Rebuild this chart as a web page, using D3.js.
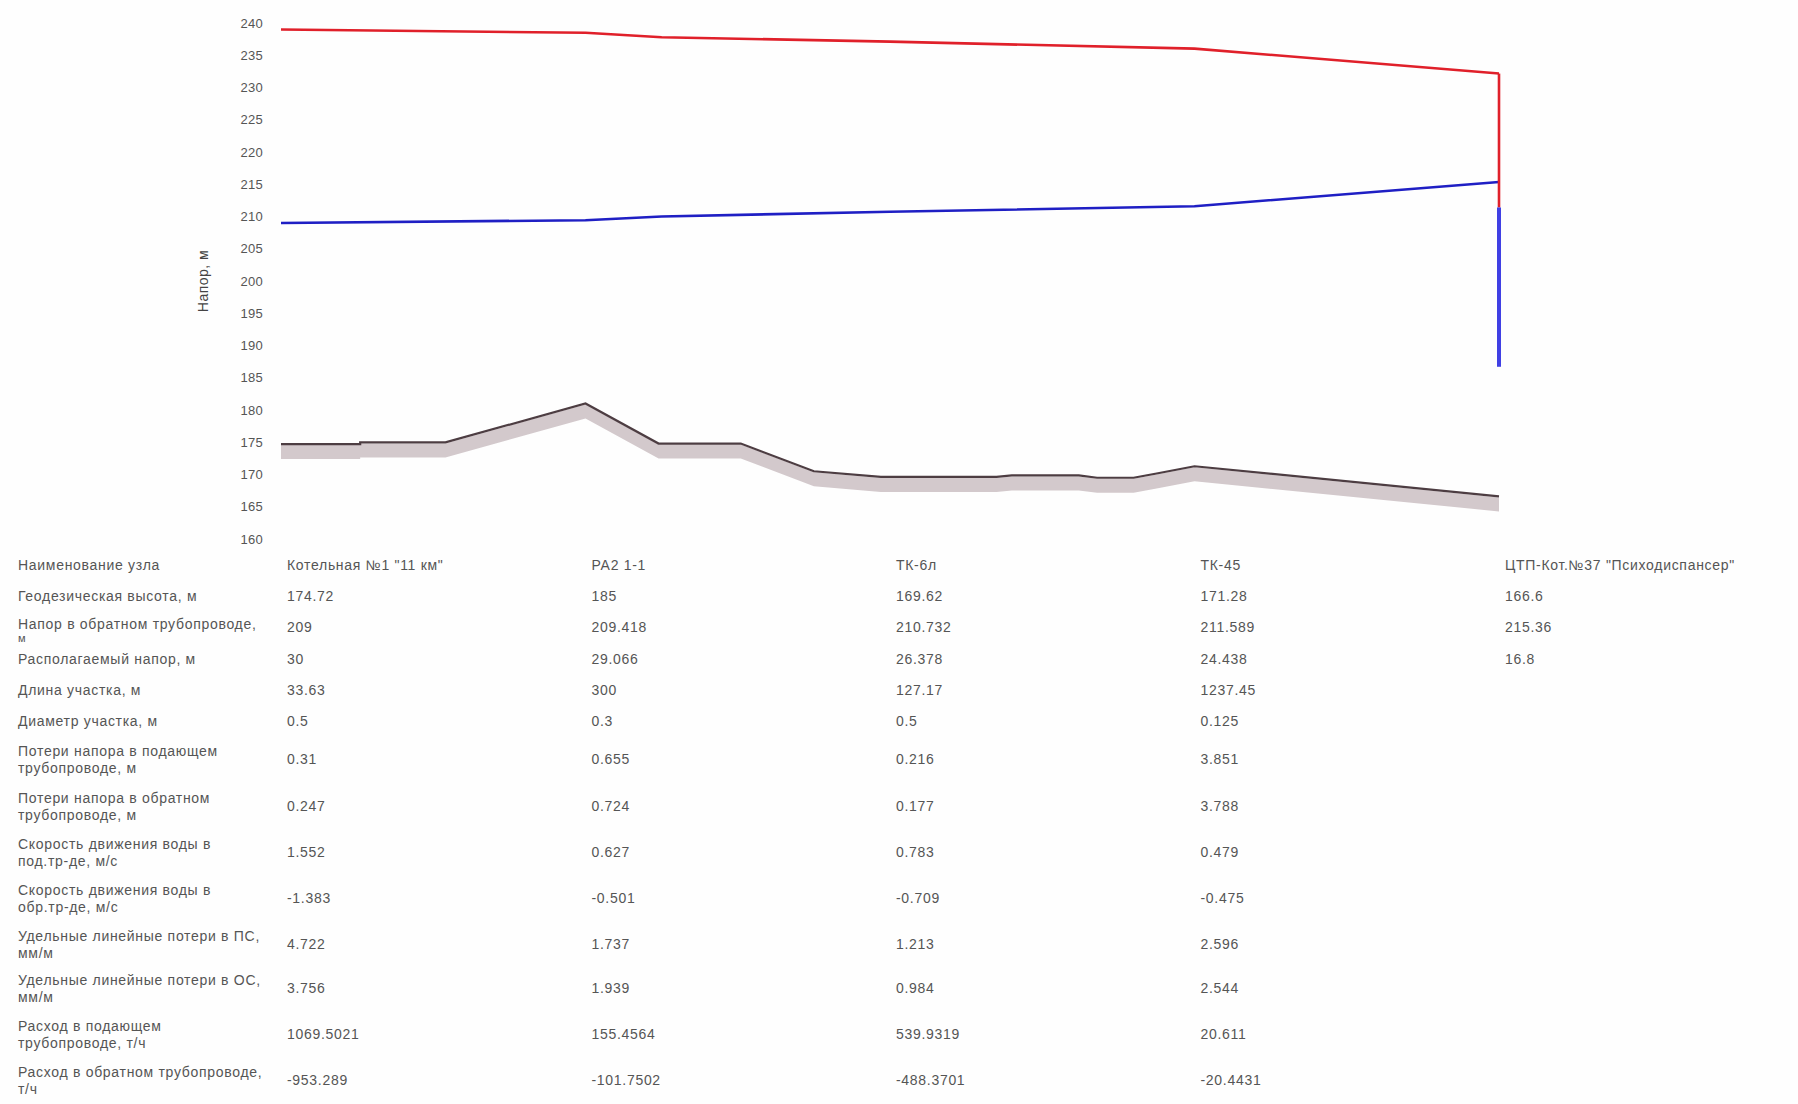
<!DOCTYPE html>
<html>
<head>
<meta charset="utf-8">
<script src="https://cdn.jsdelivr.net/npm/d3@7/dist/d3.min.js"></script>
<style>
  html, body { margin: 0; padding: 0; background: #ffffff; }
  svg { display: block; font-family: "Liberation Sans", Arial, sans-serif; }
</style>
</head>
<body>
<div id="chart"></div>
<script>
// ---------- DATA ----------
const yTicks = [160,165,170,175,180,185,190,195,200,205,210,215,220,225,230,235,240];
const yAxisTitle = "Напор, м";

// chart series (x = position along the route, table nodes at 0..4)
const supplyPos  = [0, 1, 1.25, 2, 3, 4];
const supplyHead = [239, 238.484, 237.8, 237.11, 236.027, 232.16];

const returnPos  = [0, 1, 1.25, 2, 3, 4];
const returnLine = [209, 209.418, 210.0, 210.732, 211.589, 215.36];

const groundPos  = [0, 0.26, 0.26, 0.54, 1, 1.24, 1.51, 1.75, 1.97, 2.35, 2.4, 2.62, 2.68, 2.8, 2.88, 3, 4];
const groundElev = [174.72, 174.72, 174.98, 174.98, 181.0, 174.8, 174.8, 170.5, 169.62, 169.62, 169.85, 169.85, 169.5, 169.5, 170.2, 171.28, 166.6];

// drop at the consumer (last node)
const consumerPos = 4;
const consumerSupplyDrop = [232.16, 211.4];
const consumerReturnDrop = [211.4, 186.7];

// table
const nodePos   = [0, 1, 2, 3, 4];
const nodeNames = ["Котельная №1 \"11 км\"", "РА2 1-1", "ТК-6л", "ТК-45", "ЦТП-Кот.№37 \"Психодиспансер\""];
const geodeticHeight = ["174.72", "185", "169.62", "171.28", "166.6"];
const returnHead     = ["209", "209.418", "210.732", "211.589", "215.36"];
const availableHead  = ["30", "29.066", "26.378", "24.438", "16.8"];
const sectionLength  = ["33.63", "300", "127.17", "1237.45"];
const sectionDiam    = ["0.5", "0.3", "0.5", "0.125"];
const lossSupply     = ["0.31", "0.655", "0.216", "3.851"];
const lossReturn     = ["0.247", "0.724", "0.177", "3.788"];
const speedSupply    = ["1.552", "0.627", "0.783", "0.479"];
const speedReturn    = ["-1.383", "-0.501", "-0.709", "-0.475"];
const specLossSupply = ["4.722", "1.737", "1.213", "2.596"];
const specLossReturn = ["3.756", "1.939", "0.984", "2.544"];
const flowSupply     = ["1069.5021", "155.4564", "539.9319", "20.611"];
const flowReturn     = ["-953.289", "-101.7502", "-488.3701", "-20.4431"];

const rowLabels = [
  ["Наименование узла"],
  ["Геодезическая высота, м"],
  ["Напор в обратном трубопроводе,", "м"],
  ["Располагаемый напор, м"],
  ["Длина участка, м"],
  ["Диаметр участка, м"],
  ["Потери напора в подающем", "трубопроводе, м"],
  ["Потери напора в обратном", "трубопроводе, м"],
  ["Скорость движения воды в", "под.тр-де, м/с"],
  ["Скорость движения воды в", "обр.тр-де, м/с"],
  ["Удельные линейные потери в ПС,", "мм/м"],
  ["Удельные линейные потери в ОС,", "мм/м"],
  ["Расход в подающем", "трубопроводе, т/ч"],
  ["Расход в обратном трубопроводе,", "т/ч"]
];
const rowValues = [nodeNames, geodeticHeight, returnHead, availableHead, sectionLength, sectionDiam,
  lossSupply, lossReturn, speedSupply, speedReturn, specLossSupply, specLossReturn, flowSupply, flowReturn];

// ---------- DRAW ----------
const W = 1798, H = 1104;
const svg = d3.select("#chart").append("svg").attr("width", W).attr("height", H);
svg.append("rect").attr("width", W).attr("height", H).attr("fill", "#fefefe");

const x = d3.scaleLinear().domain([0, 4]).range([281, 1499]);
const y = d3.scaleLinear().domain([160, 240]).range([539, 23]);

// y axis
const yAxis = svg.append("g").attr("transform", "translate(263,0)")
  .call(d3.axisLeft(y).tickValues(yTicks).tickSize(0).tickPadding(0));
yAxis.select(".domain").remove();
yAxis.selectAll("text").attr("font-size", 13).attr("fill", "#555")
  .attr("letter-spacing", "0.3px")
  .attr("font-family", "Liberation Sans, Arial, sans-serif");

svg.append("text")
  .attr("transform", `translate(208,${(y(240)+y(160))/2}) rotate(-90)`)
  .attr("text-anchor", "middle").attr("font-size", 14).attr("fill", "#444")
  .attr("letter-spacing", "0.5px")
  .text(yAxisTitle);

// ground shade + ground line
const groundData = groundPos.map((p, i) => ({p, v: groundElev[i]}));
svg.append("path").datum(groundData)
  .attr("d", d3.area().x(d => x(d.p)).y0(d => y(d.v) + 15).y1(d => y(d.v) + 1))
  .attr("fill", "#d3c9cc");
svg.append("path").datum(groundData)
  .attr("d", d3.line().x(d => x(d.p)).y(d => y(d.v)))
  .attr("fill", "none").attr("stroke", "#4d3d42").attr("stroke-width", 2.2);

// return line
svg.append("path").datum(returnPos.map((p, i) => ({p, v: returnLine[i]})))
  .attr("d", d3.line().x(d => x(d.p)).y(d => y(d.v)))
  .attr("fill", "none").attr("stroke", "#1f1fc4").attr("stroke-width", 2.6);

// supply line
svg.append("path").datum(supplyPos.map((p, i) => ({p, v: supplyHead[i]})))
  .attr("d", d3.line().x(d => x(d.p)).y(d => y(d.v)))
  .attr("fill", "none").attr("stroke", "#e0202a").attr("stroke-width", 2.6);

// consumer drops
svg.append("line")
  .attr("x1", x(consumerPos)).attr("x2", x(consumerPos))
  .attr("y1", y(consumerSupplyDrop[0])).attr("y2", y(consumerSupplyDrop[1]))
  .attr("stroke", "#e0202a").attr("stroke-width", 2.6);
svg.append("line")
  .attr("x1", x(consumerPos)).attr("x2", x(consumerPos))
  .attr("y1", y(consumerReturnDrop[0])).attr("y2", y(consumerReturnDrop[1]))
  .attr("stroke", "#4040e4").attr("stroke-width", 4);

// table
const rowCenters = [565, 596, 627, 659, 690, 721, 759, 806, 852, 898, 944, 988, 1034, 1080];
const table = svg.append("g").attr("font-size", 14).attr("fill", "#555").attr("letter-spacing", "0.7px");
rowLabels.forEach((lines, r) => {
  const cy = rowCenters[r];
  let ys;
  if (lines.length === 1) ys = [cy];
  else if (r === 2) ys = [cy - 3, cy + 11];
  else ys = [cy - 8, cy + 9];
  lines.forEach((t, k) => {
    table.append("text").attr("x", 18).attr("y", ys[k]).attr("dy", "0.35em").text(t)
      .attr("font-size", r === 2 && k === 1 ? 11 : 14);
  });
  rowValues[r].forEach((v, c) => {
    table.append("text").attr("x", x(nodePos[c]) + 6).attr("y", cy).attr("dy", "0.35em").text(v);
  });
});
</script>
</body>
</html>
